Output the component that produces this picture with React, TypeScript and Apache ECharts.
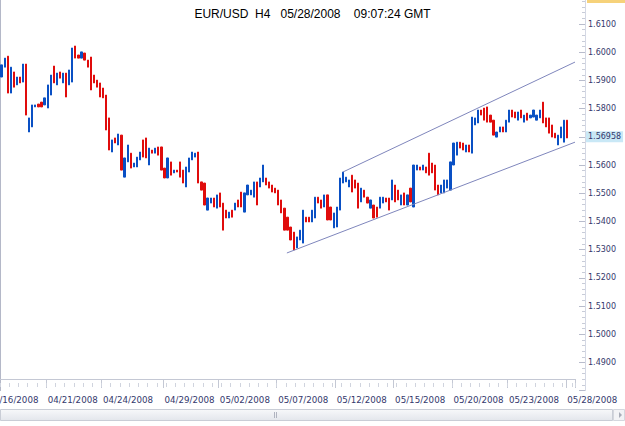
import React, { useEffect, useRef } from "react";
import * as echarts from "echarts";

// H4 bars (price units)
const highs = [
  1.5955, 1.5979, 1.5986, 1.5947, 1.593, 1.5912, 1.5912, 1.5958, 1.5958, 1.5767,
  1.5813, 1.5813, 1.5816, 1.5823, 1.5838, 1.5884, 1.5919, 1.5951, 1.5926, 1.593,
  1.5926, 1.5926, 1.5937, 1.6015, 1.6022, 1.599, 1.6001, 1.5997, 1.5972, 1.5983,
  1.5919, 1.5901, 1.5891, 1.5873, 1.5848, 1.5767, 1.5689, 1.5696, 1.571, 1.5706,
  1.5625, 1.5671, 1.5642, 1.5607, 1.5628, 1.5646, 1.5689, 1.5696, 1.566, 1.5653,
  1.566, 1.5664, 1.5664, 1.5589, 1.5625, 1.5611, 1.5582, 1.5582, 1.5611, 1.5582,
  1.5593, 1.5625, 1.5646, 1.5642, 1.5646, 1.554, 1.5536, 1.5483, 1.5483, 1.5483,
  1.5494, 1.5501, 1.5465, 1.544, 1.5433, 1.544, 1.5465, 1.5476, 1.5504, 1.5501,
  1.5529, 1.5511, 1.554, 1.554, 1.5554, 1.56, 1.5554, 1.554, 1.5529, 1.5518,
  1.5511, 1.5476, 1.5447, 1.5415, 1.538, 1.5362, 1.5345, 1.5369, 1.544, 1.5415,
  1.5415, 1.544, 1.5486, 1.5486, 1.5476, 1.5494, 1.5494, 1.5451, 1.543, 1.5451,
  1.5554, 1.5575, 1.5557, 1.5547, 1.5564, 1.5547, 1.5536, 1.5518, 1.5511, 1.5486,
  1.5476, 1.5458, 1.5451, 1.5486, 1.5486, 1.5483, 1.5483, 1.5547, 1.5529, 1.5511,
  1.5494, 1.5501, 1.5494, 1.5518, 1.56, 1.56, 1.5593, 1.56, 1.5593, 1.5642,
  1.5607, 1.56, 1.5529, 1.5529, 1.5547, 1.5547, 1.5611, 1.5678, 1.5681, 1.5681,
  1.5678, 1.5671, 1.5671, 1.577, 1.5767, 1.5795, 1.5795, 1.5802, 1.5806, 1.5777,
  1.5759, 1.5717, 1.5735, 1.5735, 1.5759, 1.5795, 1.5795, 1.5788, 1.5788, 1.5795,
  1.5777, 1.5784, 1.5777, 1.5795, 1.5777, 1.5795, 1.5823, 1.5767, 1.5767, 1.5742,
  1.5713, 1.5706, 1.5735, 1.5759, 1.5759,
];

const lows = [
  1.5912, 1.5947, 1.5855, 1.5855, 1.5876, 1.5884, 1.5891, 1.5894, 1.5777, 1.5717,
  1.5735, 1.5806, 1.5806, 1.5806, 1.5813, 1.5802, 1.5848, 1.5891, 1.5884, 1.5908,
  1.5891, 1.5841, 1.5884, 1.5894, 1.5979, 1.5979, 1.5979, 1.5972, 1.5947, 1.5866,
  1.5891, 1.5876, 1.5841, 1.5838, 1.5724, 1.5653, 1.5646, 1.5678, 1.5671, 1.5582,
  1.5557, 1.5611, 1.5589, 1.5593, 1.5593, 1.5618, 1.5628, 1.5625, 1.56, 1.5642,
  1.5642, 1.5635, 1.5582, 1.5554, 1.5554, 1.5564, 1.5572, 1.5575, 1.5557, 1.5536,
  1.5522, 1.5575, 1.5618, 1.5628, 1.5536, 1.5511, 1.5458, 1.544, 1.5465, 1.5451,
  1.5447, 1.5451, 1.5369, 1.5412, 1.5412, 1.5415, 1.544, 1.5451, 1.5451, 1.5433,
  1.5494, 1.5494, 1.5486, 1.5458, 1.5522, 1.554, 1.5529, 1.5518, 1.5504, 1.5501,
  1.5458, 1.543, 1.5369, 1.5369, 1.5334, 1.5299, 1.5306, 1.5334, 1.5323, 1.5398,
  1.5398, 1.5398, 1.5412, 1.5465, 1.5447, 1.5451, 1.5405, 1.5405, 1.5377, 1.538,
  1.544, 1.5536, 1.554, 1.5522, 1.5504, 1.5518, 1.5447, 1.5469, 1.5486, 1.5465,
  1.5447, 1.5412, 1.5415, 1.5447, 1.5465, 1.5469, 1.544, 1.5476, 1.5469, 1.5476,
  1.5458, 1.5458, 1.5458, 1.5469, 1.5451, 1.5582, 1.5582, 1.5582, 1.5572, 1.5564,
  1.5572, 1.5511, 1.5494, 1.5501, 1.5501, 1.5518, 1.5511, 1.56, 1.5635, 1.566,
  1.5653, 1.5646, 1.5646, 1.5642, 1.5742, 1.5749, 1.5777, 1.5759, 1.5752, 1.5752,
  1.5706, 1.5699, 1.5717, 1.5717, 1.5717, 1.5752, 1.577, 1.5767, 1.5759, 1.5767,
  1.5752, 1.5759, 1.5767, 1.577, 1.5759, 1.5767, 1.5749, 1.5735, 1.5713, 1.5699,
  1.5696, 1.5671, 1.5696, 1.5681, 1.56958,
];

// 1 = rising bar (blue), 0 = falling bar (red)
const rising = [
  1, 1, 0, 1, 0, 1, 0, 1, 0, 1,
  1, 1, 0, 0, 1, 1, 1, 0, 1, 0,
  1, 0, 1, 1, 0, 0, 1, 0, 0, 0,
  0, 0, 0, 0, 0, 0, 1, 0, 1, 0,
  1, 1, 0, 1, 1, 1, 0, 0, 1, 0,
  1, 0, 0, 0, 1, 0, 1, 0, 0, 0,
  1, 1, 1, 1, 0, 0, 0, 1, 1, 0,
  1, 0, 0, 0, 1, 0, 1, 0, 0, 1,
  1, 1, 1, 0, 1, 1, 0, 0, 0, 0,
  0, 0, 0, 0, 0, 0, 1, 1, 1, 0,
  0, 1, 1, 0, 0, 1, 0, 0, 1, 1,
  1, 1, 1, 1, 0, 0, 0, 1, 0, 0,
  1, 0, 0, 1, 1, 0, 0, 1, 0, 0,
  1, 0, 1, 0, 1, 1, 0, 1, 0, 0,
  0, 0, 0, 1, 1, 1, 1, 1, 1, 0,
  0, 1, 0, 1, 1, 1, 0, 0, 0, 0,
  0, 1, 1, 0, 1, 1, 0, 0, 1, 0,
  1, 0, 1, 1, 1, 1, 0, 0, 0, 0,
  0, 1, 1, 1, 0,
];

// date labels and the bar index where each labelled day starts
const dayLabels = ["04/21/2008", "04/24/2008", "04/29/2008", "05/02/2008", "05/07/2008",
  "05/12/2008", "05/15/2008", "05/20/2008", "05/23/2008", "05/28/2008"];
const dayStart = [15, 33, 53, 71, 90, 109, 128, 147, 165, 184];
const firstLabel = "04/16/2008";
const emptySlots = 2;

// price channel drawn on the chart: [bar position, price]
const lowerChannel = [[93.3, 1.5288], [187, 1.5681]];
const upperChannel = [[111.5, 1.5575], [187, 1.5965]];

const lastPrice = 1.56958;
const yTicksHidden = [1.48, 1.57, 1.62];

const titleText = "EUR/USD  H4   05/28/2008    09:07:24 GMT";

export default function App() {
  const ref = useRef<HTMLDivElement>(null);
  useEffect(() => {
    document.body.style.margin = "0";
    const chart = echarts.init(ref.current!, null, { renderer: "svg" });
    const nCat = highs.length + emptySlots;
    const cats: any[] = [];
    for (let i = 0; i < nCat; i++) {
      const k = dayStart.indexOf(i);
      if (k >= 0) cats.push(dayLabels[k]);
      else if (i === 12) cats.push({ value: firstLabel, textStyle: { align: "right" } });
      else cats.push("s" + i);
    }
    const candles = highs.map((h, i) =>
      rising[i] ? [lows[i], h, lows[i], h] : [h, lows[i], lows[i], h]
    );
    const labelColor = "#34386c";
    const font = "DejaVu Sans";
    const gridBox = { left: 0, top: -4.2, width: 575, height: 394.8, outerBoundsMode: "none" };
    chart.setOption({
      animation: false,
      title: {
        text: titleText,
        left: "center",
        top: 3,
        textStyle: { fontFamily: "Liberation Sans", fontSize: 12, fontWeight: "normal", color: "#000" },
      },
      grid: [{ ...gridBox }, { ...gridBox }],
      xAxis: [
        {
          type: "category",
          gridIndex: 0,
          data: cats,
          offset: -11.6,
          position: "bottom",
          boundaryGap: true,
          axisLine: { show: true, lineStyle: { color: "#c4c8d4", width: 1 } },
          axisTick: {
            show: true,
            length: 9,
            interval: (idx: number) => dayStart.indexOf(idx) >= 0,
            lineStyle: { color: "#c4c8d4" },
          },
          axisLabel: {
            interval: 0,
            margin: 16,
            align: "left",
            fontFamily: font,
            fontSize: 8.7,
            color: labelColor,
            formatter: (v: string) => (v.startsWith("s") ? "" : v),
          },
          splitLine: { show: false },
        },
        { type: "value", gridIndex: 0, position: "top", min: 0, max: nCat, show: false },
        {
          type: "category",
          gridIndex: 1,
          data: cats,
          offset: -7.6,
          position: "bottom",
          axisLine: { show: false },
          axisTick: { show: true, length: 4, interval: 2, lineStyle: { color: "#d0d4de" } },
          axisLabel: { show: false },
          splitLine: { show: false },
        },
      ],
      yAxis: [
        {
          type: "value",
          gridIndex: 0,
          position: "right",
          offset: 0,
          min: 1.48,
          max: 1.62,
          interval: 0.01,
          axisLine: { show: true, lineStyle: { color: "#b4b8c8" } },
          axisTick: { show: false },
          axisLabel: { show: false },
          splitLine: { show: false },
        },
        {
          type: "value",
          gridIndex: 1,
          position: "right",
          offset: 10,
          min: 1.48,
          max: 1.62,
          interval: 0.01,
          axisLine: { show: true, lineStyle: { color: "#d4d8e4" } },
          axisTick: { show: true, inside: true, length: 6, lineStyle: { color: "#b8bccc" } },
          minorTick: { show: true, splitNumber: 5, length: 3, lineStyle: { color: "#c8ccd8" } },
          splitLine: { show: false },
          axisLabel: {
            margin: 3,
            fontFamily: font,
            fontSize: 8,
            color: labelColor,
            formatter: (v: number) =>
              yTicksHidden.some((t) => Math.abs(t - v) < 1e-6) ? "" : v.toFixed(4),
          },
        },
      ],
      series: [
        {
          type: "candlestick",
          data: candles,
          xAxisIndex: 0,
          yAxisIndex: 0,
          barWidth: 1.7,
          clip: false,
          itemStyle: {
            color: "#0a50c4",
            color0: "#e00c0c",
            borderColor: "#0a50c4",
            borderColor0: "#e00c0c",
            borderWidth: 1,
          },
          markLine: {
            silent: true,
            symbol: "none",
            lineStyle: { width: 0, color: "rgba(0,0,0,0)", type: "solid" },
            label: {
              show: true,
              position: "end",
              distance: 11,
              formatter: lastPrice.toFixed(5),
              fontFamily: font,
              fontSize: 8,
              color: labelColor,
              backgroundColor: "#c9e8f6",
              padding: [2, 2, 1, 2],
            },
            emphasis: { disabled: true },
            data: [{ yAxis: lastPrice }],
          },
        },
        {
          type: "line",
          xAxisIndex: 1,
          yAxisIndex: 0,
          data: lowerChannel,
          symbol: "none",
          lineStyle: { color: "#7f86bc", width: 1 },
        },
        {
          type: "line",
          xAxisIndex: 1,
          yAxisIndex: 0,
          data: upperChannel,
          symbol: "none",
          lineStyle: { color: "#7f86bc", width: 1 },
        },
      ],
      graphic: [
        { type: "rect", shape: { x: 587, y: -2, width: 38, height: 5 }, style: { fill: "#f6d27a" } },
        {
          type: "rect",
          shape: { x: 0.5, y: 409.5, width: 612, height: 11 },
          style: {
            fill: new echarts.graphic.LinearGradient(0, 0, 0, 1, [
              { offset: 0, color: "#f7f8fa" },
              { offset: 1, color: "#e3e6ec" },
            ]),
            stroke: "#c9cdd6",
          },
        },
        { type: "line", shape: { x1: 274.5, y1: 412, x2: 274.5, y2: 418 }, style: { stroke: "#b0b4c0" } },
        { type: "line", shape: { x1: 276.5, y1: 412, x2: 276.5, y2: 418 }, style: { stroke: "#b0b4c0" } },
        {
          type: "rect",
          shape: { x: 613.5, y: 409.5, width: 11, height: 11 },
          style: { fill: "#f2f3f6", stroke: "#d4d7de" },
        },
        {
          type: "polygon",
          shape: { points: [[619, 412], [622, 415], [619, 418]] },
          style: { fill: "#a8acb8" },
        },
      ],
    });
    return () => chart.dispose();
  }, []);
  return <div ref={ref} style={{ width: 625, height: 426 }} />;
}
